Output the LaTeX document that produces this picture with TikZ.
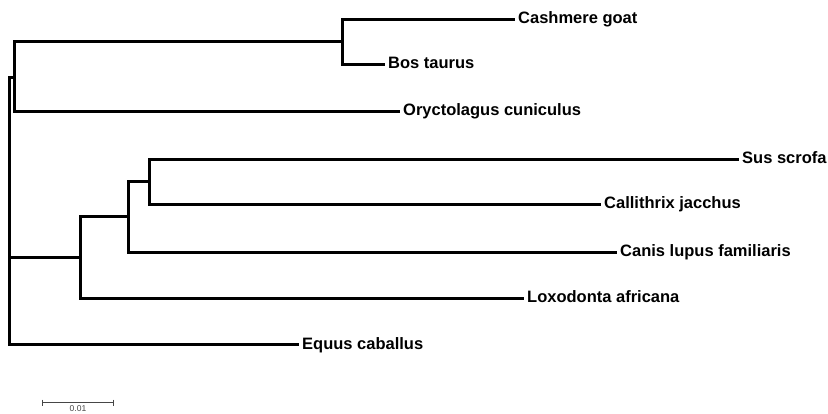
\documentclass[tikz,border=0pt]{standalone}
\usepackage{fontspec}
\setmainfont{Liberation Sans}
\definecolor{scalegray}{RGB}{70,70,70}
\tikzset{
  branch/.style={line width=3pt, line join=miter, line cap=rect, black},
  lab/.style={anchor=base west, inner sep=0pt, xshift=5pt, yshift=-4.5pt, font=\fontsize{16.5}{20}\selectfont\bfseries},
  scalebar/.style={line width=1pt, scalegray},
  scalelab/.style={font=\fontsize{8.5}{10}\selectfont, text=scalegray, inner sep=0pt}
}
\begin{document}
\begin{tikzpicture}[x=1pt,y=-1pt]
\useasboundingbox (0,0) rectangle (828,414);
% tips
\coordinate (tCash) at (513,19.5);
\coordinate (tBos) at (383,64.5);
\coordinate (tOry) at (398,111.5);
\coordinate (tSus) at (737,159.5);
\coordinate (tCall) at (599,204.5);
\coordinate (tCanis) at (615,252.5);
\coordinate (tLox) at (522,298.5);
\coordinate (tEqu) at (297,344.5);
% internal nodes
\coordinate (n1) at (342.5,41.5);
\coordinate (nA) at (14.5,77.5);
\coordinate (n3) at (149.5,181.5);
\coordinate (n2) at (128.5,216.5);
\coordinate (n4) at (80.5,257.5);
\coordinate (root) at (9.5,210.5);
% branches
\draw[branch] (tCash) -| (n1) |- (tBos);
\draw[branch] (n1) -| (nA) |- (tOry);
\draw[branch] (tSus) -| (n3) |- (tCall);
\draw[branch] (n3) -| (n2) |- (tCanis);
\draw[branch] (n2) -| (n4) |- (tLox);
\draw[branch] (nA) -| (root) |- (tEqu);
\draw[branch] (n4) -- (n4 -| root);
% labels
\node[lab] (lCash) at (tCash) {Cashmere goat};
\node[lab] (lBos) at (tBos) {Bos taurus};
\node[lab] (lOry) at (tOry) {Oryctolagus cuniculus};
\node[lab] (lSus) at (tSus) {Sus scrofa};
\node[lab] (lCall) at (tCall) {Callithrix jacchus};
\node[lab] (lCanis) at (tCanis) {Canis lupus familiaris};
\node[lab] (lLox) at (tLox) {Loxodonta africana};
\node[lab] (lEqu) at (tEqu) {Equus caballus};
% scale bar
\coordinate (sL) at (42.5,402.5);
\coordinate (sR) at (113.5,402.5);
\draw[scalebar] (sL) -- (sR);
\draw[scalebar] ([yshift=3pt]sL) -- ([yshift=-3pt]sL);
\draw[scalebar] ([yshift=3pt]sR) -- ([yshift=-3pt]sR);
\node[scalelab, anchor=north] (sLab) at (78,405) {0.01};
\end{tikzpicture}
\end{document}
